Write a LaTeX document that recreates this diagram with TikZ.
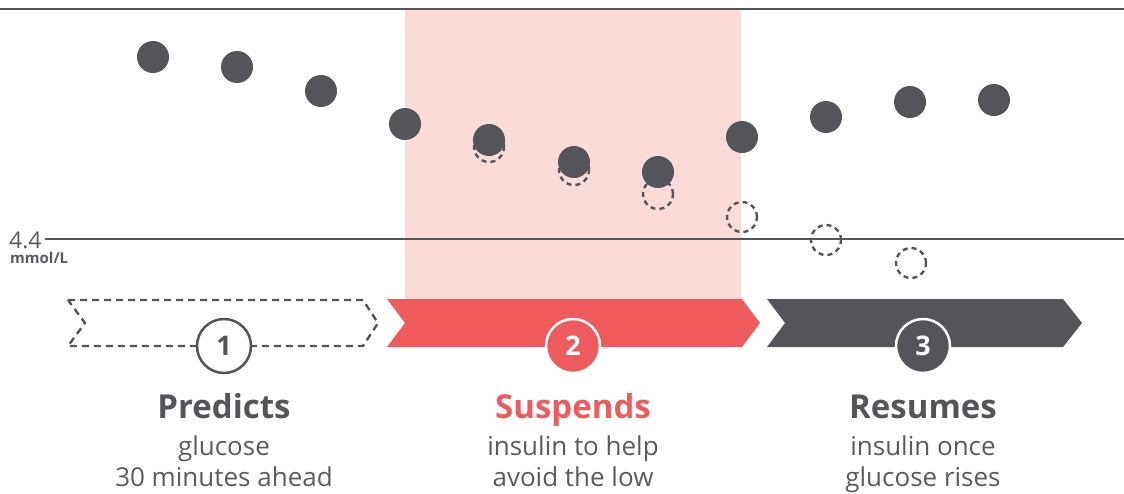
\documentclass[tikz,border=0pt]{standalone}
\usepackage{fontspec}
\setmainfont{Open Sans}
\definecolor{darkgray}{HTML}{54555A}
\definecolor{alarmred}{HTML}{EF5A5C}
\definecolor{lightpink}{HTML}{FADBD8}
\definecolor{textgray}{HTML}{5A5B5F}
\tikzset{
  dot/.style={circle,fill=darkgray,minimum size=32pt,inner sep=0pt},
  ghost/.style={circle,draw=darkgray,line width=2.4pt,dash pattern=on 5pt off 4pt,minimum size=30pt,inner sep=0pt},
  numcircle/.style={circle,draw,line width=2.5pt,minimum size=54pt,inner sep=0pt,font=\fontsize{27}{30}\selectfont\bfseries},
  heading/.style={anchor=base,font=\fontsize{33}{38}\selectfont\bfseries},
  subtext/.style={anchor=base,text=textgray,font=\fontsize{26}{30}\selectfont}
}
\begin{document}
\begin{tikzpicture}[x=1pt,y=-1pt]
  \useasboundingbox (0,0) rectangle (1124,493);

  % Suspend window
  \fill[lightpink] (405,10) rectangle (741,299);

  % Reference lines
  \draw[darkgray,line width=2.4pt] (0,9) -- (1124,9);
  \draw[darkgray,line width=2.4pt] (45,239) -- (1124,239);
  \node[anchor=base west,text=textgray,inner sep=0pt,font=\fontsize{23}{25}\selectfont] (lvl) at (9,248) {4.4};
  \node[anchor=base west,text=textgray,inner sep=0pt,font=\fontsize{15}{17}\selectfont\bfseries] (unit) at (10,263) {mmol/L};

  % Predicted readings
  \node[ghost] (g1) at (489,147) {};
  \node[ghost] (g2) at (574,170) {};
  \node[ghost] (g3) at (658,194) {};
  \node[ghost] (g4) at (742,217) {};
  \node[ghost] (g5) at (826,240) {};
  \node[ghost] (g6) at (911,263) {};

  % Sensor readings
  \node[dot] (r1) at (153,57) {};
  \node[dot] (r2) at (237,67) {};
  \node[dot] (r3) at (321,91) {};
  \node[dot] (r4) at (405,124) {};
  \node[dot] (r5) at (489,140) {};
  \node[dot] (r6) at (574,162) {};
  \node[dot] (r7) at (658,172) {};
  \node[dot] (r8) at (742,137) {};
  \node[dot] (r9) at (826,117) {};
  \node[dot] (r10) at (910,102) {};
  \node[dot] (r11) at (994,100) {};

  % Step arrows
  \draw[darkgray,line width=2.4pt,dash pattern=on 7pt off 5pt,line join=miter]
    (68,300) -- (363,300) -- (378,323) -- (363,346) -- (68,346) -- (85,323) -- cycle;
  \fill[alarmred] (387,299) -- (742,299) -- (760,323) -- (742,347) -- (387,347) -- (405,323) -- cycle;
  \fill[darkgray] (767,299) -- (1063,299) -- (1082,323) -- (1063,347) -- (767,347) -- (785,323) -- cycle;

  % Step numbers
  \node[numcircle,draw=darkgray,fill=white,text=darkgray] (n1) at (224,346) {1};
  \node[numcircle,draw=white,fill=alarmred,text=white] (n2) at (573,346) {2};
  \node[numcircle,draw=white,fill=darkgray,text=white] (n3) at (923,346) {3};

  % Step labels
  \node[heading,text=darkgray] (h1) at (224,418) {Predicts};
  \node[subtext] (s1a) at (224,455) {glucose};
  \node[subtext] (s1b) at (224,486) {30 minutes ahead};
  \node[heading,text=alarmred] (h2) at (573,418) {Suspends};
  \node[subtext] (s2a) at (573,455) {insulin to help};
  \node[subtext] (s2b) at (573,486) {avoid the low};
  \node[heading,text=darkgray] (h3) at (923,418) {Resumes};
  \node[subtext] (s3a) at (923,455) {insulin once};
  \node[subtext] (s3b) at (923,486) {glucose rises};
\end{tikzpicture}
\end{document}
